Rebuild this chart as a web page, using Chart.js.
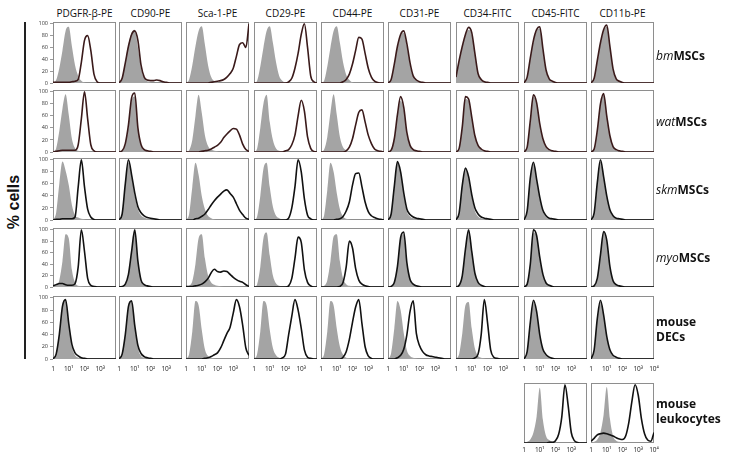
<!DOCTYPE html>
<html>
<head>
<meta charset="utf-8">
<script src="https://cdn.jsdelivr.net/npm/chart.js@4.4.1/dist/chart.umd.min.js"></script>
<style>
  html, body { margin: 0; padding: 0; background: #fff; }
  body { width: 729px; height: 464px; position: relative; overflow: hidden; font-family: 'Open Sans', sans-serif; color: #111; }
  canvas { position: absolute; }
  .hdr { position: absolute; top: 6px; font-size: 10px; line-height: 14px; transform: translateX(-50%); white-space: nowrap; }
  .rl { position: absolute; left: 656px; font-size: 12px; line-height: 15px; transform: translateY(-50%); white-space: nowrap; }
  .rl i { font-weight: 400; }
  .rl b { font-weight: 700; }
  #vline { position: absolute; left: 24px; top: 22px; width: 2px; height: 337px; background: #222; }
  #ylab { position: absolute; left: 14px; top: 202px; font: bold 16px 'Liberation Sans', Arial, sans-serif; transform: translate(-50%, -50%) rotate(-90deg); white-space: nowrap; }
</style>
</head>
<body>
<div id="vline"></div>
<div id="ylab">% cells</div>

<script>
// x positions of the histogram bins, in decades (1 .. 10^4)
const logBins = [0, 0.2, 0.4, 0.6, 0.8, 1.0, 1.2, 1.4, 1.6, 1.8, 2.0, 2.2, 2.4, 2.6, 2.8, 3.0, 3.2, 3.4, 3.6, 3.8, 4.0];
const yTicks = [0, 20, 40, 60, 80, 100];
const xTickLabels = ['1', '10¹', '10²', '10³', '10⁴'];
const markers = ['PDGFR-β-PE', 'CD90-PE', 'Sca-1-PE', 'CD29-PE', 'CD44-PE', 'CD31-PE', 'CD34-FITC', 'CD45-FITC', 'CD11b-PE'];

// isotype controls (grey) and stained samples (black line), one list per marker
const ctrlBm = [
  [0,5,25,55,88,95,62,30,12,4,1,0,0,0,0,0,0,0,0,0,0],
  [0,8,35,65,85,90,60,25,8,3,1,0,0,0,0,0,0,0,0,0,0],
  [0,6,30,62,88,96,65,30,10,3,1,0,0,0,0,0,0,0,0,0,0],
  [0,4,28,60,88,96,68,35,12,4,1,0,0,0,0,0,0,0,0,0,0],
  [0,4,28,60,88,96,68,35,14,5,1,0,0,0,0,0,0,0,0,0,0],
  [0,5,30,60,80,85,62,30,10,4,1,0,0,0,0,0,0,0,0,0,0],
  [8,35,60,80,90,82,48,15,5,2,0,0,0,0,0,0,0,0,0,0,0],
  [0,8,40,70,88,92,55,20,6,2,0,0,0,0,0,0,0,0,0,0,0],
  [0,6,35,65,88,95,60,22,6,2,0,0,0,0,0,0,0,0,0,0,0]
];
const stainBm = [
  [1,1,1,1,1,1,2,3,6,35,72,80,55,15,2,0,0,0,0,0,0],
  [0,8,34,62,82,88,72,30,10,5,4,4,5,4,2,1,0,0,0,0,0],
  [0,0,0,0,0,0,0,0,1,2,3,4,6,10,16,25,45,65,68,60,100],
  [0,0,0,0,0,0,0,0,0,0,0,2,8,25,50,82,100,60,12,2,0],
  [0,0,0,0,0,0,0,2,6,15,32,55,77,74,50,25,10,3,1,0,0],
  [0,6,32,62,82,88,66,34,12,5,2,1,0,0,0,0,0,0,0,0,0],
  [10,38,62,82,94,85,50,16,6,2,1,0,0,0,0,0,0,0,0,0,0],
  [0,10,42,72,90,95,58,22,7,3,1,0,0,0,0,0,0,0,0,0,0],
  [0,8,38,68,90,98,62,24,7,3,1,0,0,0,0,0,0,0,0,0,0]
];
const ctrlWat = [
  [0,6,35,72,96,62,22,6,2,1,0,0,0,0,0,0,0,0,0,0,0],
  [0,2,12,42,85,92,38,10,3,1,0,0,0,0,0,0,0,0,0,0,0],
  [0,3,20,60,95,65,28,10,4,2,1,0,0,0,0,0,0,0,0,0,0],
  [0,6,40,80,95,50,20,6,2,1,0,0,0,0,0,0,0,0,0,0,0],
  [0,4,25,65,96,62,25,8,3,1,0,0,0,0,0,0,0,0,0,0,0],
  [0,3,20,58,85,70,30,10,4,1,0,0,0,0,0,0,0,0,0,0,0],
  [0,6,40,88,85,55,25,10,4,1,0,0,0,0,0,0,0,0,0,0,0],
  [0,8,50,92,80,45,20,8,3,1,0,0,0,0,0,0,0,0,0,0,0],
  [0,5,35,78,95,58,25,8,3,1,0,0,0,0,0,0,0,0,0,0,0]
];
const stainWat = [
  [0,1,2,3,3,3,3,3,12,55,100,55,12,2,0,0,0,0,0,0,0],
  [0,2,14,45,90,98,40,12,4,2,1,0,0,0,0,0,0,0,0,0,0],
  [0,0,0,0,0,1,2,3,5,8,11,16,24,30,35,39,38,28,13,4,1],
  [0,0,0,0,0,0,0,0,0,0,2,4,12,28,60,86,68,25,6,1,0],
  [0,0,0,0,0,0,0,0,2,8,22,45,66,70,50,28,14,5,2,1,0],
  [0,3,22,62,92,74,32,11,4,2,1,0,0,0,0,0,0,0,0,0,0],
  [0,6,42,92,88,58,27,11,5,2,1,0,0,0,0,0,0,0,0,0,0],
  [0,8,52,95,82,47,22,9,4,2,1,0,0,0,0,0,0,0,0,0,0],
  [0,5,36,80,97,60,27,9,4,2,1,0,0,0,0,0,0,0,0,0,0]
];
const ctrlSkm = [
  [0,12,60,97,82,58,25,8,4,2,1,0,0,0,0,0,0,0,0,0,0],
  [0,10,58,95,72,40,18,8,4,2,1,0,0,0,0,0,0,0,0,0,0],
  [0,10,55,95,75,40,18,7,3,1,0,0,0,0,0,0,0,0,0,0,0],
  [0,6,40,85,95,55,22,7,3,1,0,0,0,0,0,0,0,0,0,0,0],
  [0,8,50,95,80,45,18,6,2,1,0,0,0,0,0,0,0,0,0,0,0],
  [0,10,55,95,78,42,14,6,3,1,0,0,0,0,0,0,0,0,0,0,0],
  [0,12,60,88,70,38,15,6,3,1,0,0,0,0,0,0,0,0,0,0,0],
  [0,15,70,94,65,35,14,5,2,1,0,0,0,0,0,0,0,0,0,0,0],
  [0,12,62,97,70,38,15,6,2,1,0,0,0,0,0,0,0,0,0,0,0]
];
const stainSkm = [
  [0,1,1,2,2,2,2,5,55,100,55,18,5,1,0,0,0,0,0,0,0],
  [0,10,60,100,75,45,22,12,7,4,3,2,1,0,0,0,0,0,0,0,0],
  [0,0,0,2,3,6,10,17,25,32,38,43,48,50,44,38,27,16,9,3,1],
  [0,0,0,0,0,0,0,0,0,0,0,3,20,55,100,80,35,8,2,0,0],
  [0,0,0,0,0,1,2,6,15,30,58,77,78,55,30,14,7,4,2,1,0],
  [0,10,56,97,80,45,18,9,5,3,2,1,0,0,0,0,0,0,0,0,0],
  [0,12,58,86,72,42,20,10,5,3,2,1,0,0,0,0,0,0,0,0,0],
  [0,15,70,96,68,38,16,7,3,2,1,0,0,0,0,0,0,0,0,0,0],
  [0,12,62,100,72,40,17,7,3,2,1,0,0,0,0,0,0,0,0,0,0]
];
const ctrlMyo = [
  [0,2,12,45,92,85,30,8,2,1,0,0,0,0,0,0,0,0,0,0,0],
  [0,1,5,20,60,95,45,12,3,1,0,0,0,0,0,0,0,0,0,0,0],
  [0,2,10,40,85,92,50,20,8,4,2,1,0,0,0,0,0,0,0,0,0],
  [0,5,35,85,95,55,20,6,2,1,0,0,0,0,0,0,0,0,0,0,0],
  [0,2,12,45,88,92,45,15,5,2,1,0,0,0,0,0,0,0,0,0,0],
  [0,1,8,35,85,92,40,12,4,1,0,0,0,0,0,0,0,0,0,0,0],
  [0,3,20,65,98,60,22,7,2,1,0,0,0,0,0,0,0,0,0,0,0],
  [0,5,38,95,90,50,20,6,2,1,0,0,0,0,0,0,0,0,0,0,0],
  [0,2,15,55,95,80,35,10,3,1,0,0,0,0,0,0,0,0,0,0,0]
];
const stainMyo = [
  [2,4,6,6,4,3,3,6,35,100,62,15,3,1,0,0,0,0,0,0,0],
  [0,1,5,22,62,100,45,12,4,2,1,0,0,0,0,0,0,0,0,0,0],
  [1,1,1,2,3,5,9,15,25,31,27,26,28,27,22,17,13,10,8,4,1],
  [0,0,0,0,0,0,0,0,0,0,0,2,15,50,87,78,30,8,2,0,0],
  [0,0,0,0,0,0,1,8,35,80,68,32,12,5,2,1,0,0,0,0,0],
  [0,1,8,36,86,96,42,13,5,2,1,0,0,0,0,0,0,0,0,0,0],
  [0,3,20,66,100,62,24,8,3,1,0,0,0,0,0,0,0,0,0,0,0],
  [0,5,40,100,90,52,22,7,3,1,0,0,0,0,0,0,0,0,0,0,0],
  [0,2,15,56,97,82,36,11,4,2,1,0,0,0,0,0,0,0,0,0,0]
];
const ctrlDec = [
  [0,8,40,85,95,55,20,6,2,1,0,0,0,0,0,0,0,0,0,0,0],
  [0,8,40,85,93,52,18,5,2,1,0,0,0,0,0,0,0,0,0,0,0],
  [0,8,45,95,88,48,16,5,2,1,0,0,0,0,0,0,0,0,0,0,0],
  [0,8,45,95,88,48,18,6,2,1,0,0,0,0,0,0,0,0,0,0,0],
  [0,8,45,95,88,50,20,7,2,1,0,0,0,0,0,0,0,0,0,0,0],
  [0,10,50,95,80,42,14,5,2,1,0,0,0,0,0,0,0,0,0,0,0],
  [0,8,42,88,93,50,17,5,2,1,0,0,0,0,0,0,0,0,0,0,0],
  [0,12,58,95,75,38,14,5,2,1,0,0,0,0,0,0,0,0,0,0,0],
  [0,15,65,95,70,35,13,4,2,1,0,0,0,0,0,0,0,0,0,0,0]
];
const stainDec = [
  [0,8,40,86,97,58,24,10,5,2,1,0,0,0,0,0,0,0,0,0,0],
  [0,8,40,86,95,55,22,9,4,2,1,0,0,0,0,0,0,0,0,0,0],
  [0,0,0,0,0,0,1,2,4,7,10,18,30,42,52,75,97,85,55,18,6],
  [0,0,0,0,0,0,0,0,0,2,8,40,70,97,80,50,15,3,1,0,0],
  [0,0,0,0,0,0,0,3,12,32,60,85,97,58,20,5,1,0,0,0,0],
  [0,0,0,2,6,16,40,78,95,42,22,12,7,5,4,3,2,1,0,0,0],
  [0,0,0,0,0,0,2,8,40,97,60,15,3,1,0,0,0,0,0,0,0],
  [0,12,60,96,78,40,16,7,3,1,0,0,0,0,0,0,0,0,0,0,0],
  [0,15,66,96,72,37,15,6,3,1,0,0,0,0,0,0,0,0,0,0,0]
];
// mouse leukocytes: CD45-FITC and CD11b-PE only
const ctrlLeuko = [
  [0,2,6,18,45,95,40,12,5,2,1,0,0,0,0,0,0,0,0,0,0],
  [0,2,6,18,48,96,42,12,4,2,1,0,0,0,0,0,0,0,0,0,0]
];
const stainLeuko = [
  [0,0,0,0,0,0,0,0,1,1,4,15,45,100,65,18,4,1,0,0,0],
  [3,8,14,16,17,16,14,12,9,7,6,12,35,72,100,82,42,16,5,3,18]
];

const rowCtrl = [ctrlBm, ctrlWat, ctrlSkm, ctrlMyo, ctrlDec];
const rowStain = [stainBm, stainWat, stainSkm, stainMyo, stainDec];
const rowNames = ['<i>bm</i><b>MSCs</b>', '<i>wat</i><b>MSCs</b>', '<i>skm</i><b>MSCs</b>', '<i>myo</i><b>MSCs</b>', '<b>mouse<br>DECs</b>'];

// panel grid (pixels)
const colLeft = [53, 119, 186, 254, 321, 388, 456, 524, 591];
const rowTop = [22, 90, 158, 228, 296];
const rowH = [61, 62, 62, 59, 63];
const rowLabelY = [55, 121, 189, 257, 329];
const PANEL_W = 63;
const PAD = { left: 6, right: 6, top: 4, bottom: 2 };
const AXW = 26, AXH = 18;
const GREY = '#a4a4a4';

// box around each histogram
const frame = {
  id: 'frame',
  beforeDatasetsDraw(chart) {
    const a = chart.chartArea, ctx = chart.ctx;
    ctx.save();
    ctx.strokeStyle = '#8e8e8e';
    ctx.lineWidth = 1;
    ctx.strokeRect(a.left + 0.5, a.top + 0.5, a.right - a.left - 1, a.bottom - a.top - 1);
    ctx.restore();
  }
};

const pts = arr => logBins.map((x, i) => ({ x: x, y: arr[i] }));

function panel(boxL, boxT, boxH, ctrl, stain, o) {
  const axW = o.yAxis ? AXW : 0, axH = o.xAxis ? AXH : 0;
  const cv = document.createElement('canvas');
  cv.width = PANEL_W + PAD.left + PAD.right + axW;
  cv.height = boxH + PAD.top + PAD.bottom + axH;
  cv.style.left = (boxL - PAD.left - axW) + 'px';
  cv.style.top = (boxT - PAD.top) + 'px';
  document.body.appendChild(cv);

  const xScale = { type: 'linear', min: 0, max: 4, display: !!o.xAxis };
  if (o.xAxis) {
    Object.assign(xScale, {
      grid: { display: false, drawTicks: false },
      border: { display: false },
      afterBuildTicks: s => { s.ticks = [0, 1, 2, 3, 4].map(v => ({ value: v })); },
      afterFit: s => { s.height = AXH; s.paddingLeft = 0; s.paddingRight = 0; },
      ticks: {
        padding: o.xPad, maxRotation: 0, autoSkip: false, color: '#222',
        font: { size: 6.5, family: 'Open Sans' },
        callback: v => (v === 4 && !o.x4) ? '' : xTickLabels[v]
      }
    });
  }
  const yScale = { min: 0, max: 103, display: !!o.yAxis };
  if (o.yAxis) {
    Object.assign(yScale, {
      grid: { drawOnChartArea: false, drawTicks: true, tickLength: 3, color: '#555', lineWidth: 0.6 },
      border: { display: false },
      afterBuildTicks: s => { s.ticks = yTicks.map(v => ({ value: v })); },
      afterFit: s => { s.width = AXW; s.paddingTop = 0; s.paddingBottom = 0; },
      ticks: { padding: 2, color: '#333', font: { size: 5.5, family: 'Open Sans' } }
    });
  }

  new Chart(cv, {
    type: 'line',
    data: {
      datasets: [
        { data: pts(stain), borderColor: o.line, borderWidth: 1.6, fill: false },
        { data: pts(ctrl), borderWidth: 0, borderColor: GREY, backgroundColor: GREY, fill: 'origin' }
      ]
    },
    options: {
      responsive: false,
      animation: false,
      events: [],
      layout: { padding: PAD },
      elements: { point: { radius: 0 }, line: { cubicInterpolationMode: 'monotone' } },
      plugins: { legend: { display: false }, tooltip: { enabled: false } },
      scales: { x: xScale, y: yScale }
    },
    plugins: [frame]
  });
}

// column headers
markers.forEach((m, c) => {
  const d = document.createElement('div');
  d.className = 'hdr';
  d.textContent = m;
  d.style.left = (colLeft[c] + PANEL_W / 2) + 'px';
  document.body.appendChild(d);
});

// 5 x 9 grid
for (let r = 0; r < 5; r++) {
  for (let c = 0; c < 9; c++) {
    panel(colLeft[c], rowTop[r], rowH[r], rowCtrl[r][c], rowStain[r][c], {
      yAxis: c === 0,
      xAxis: r === 4,
      xPad: 6,
      x4: c === 8,
      line: r < 2 ? '#3a1a1a' : '#111'
    });
  }
  const l = document.createElement('div');
  l.className = 'rl';
  l.innerHTML = rowNames[r];
  l.style.top = rowLabelY[r] + 'px';
  document.body.appendChild(l);
}

// leukocyte panels under CD45 and CD11b
panel(colLeft[7], 383, 60, ctrlLeuko[0], stainLeuko[0], { xAxis: true, xPad: 3, x4: false, line: '#111' });
panel(colLeft[8], 383, 60, ctrlLeuko[1], stainLeuko[1], { xAxis: true, xPad: 3, x4: true, line: '#111' });
const lk = document.createElement('div');
lk.className = 'rl';
lk.innerHTML = '<b>mouse<br>leukocytes</b>';
lk.style.top = '411px';
document.body.appendChild(lk);
</script>
</body>
</html>
